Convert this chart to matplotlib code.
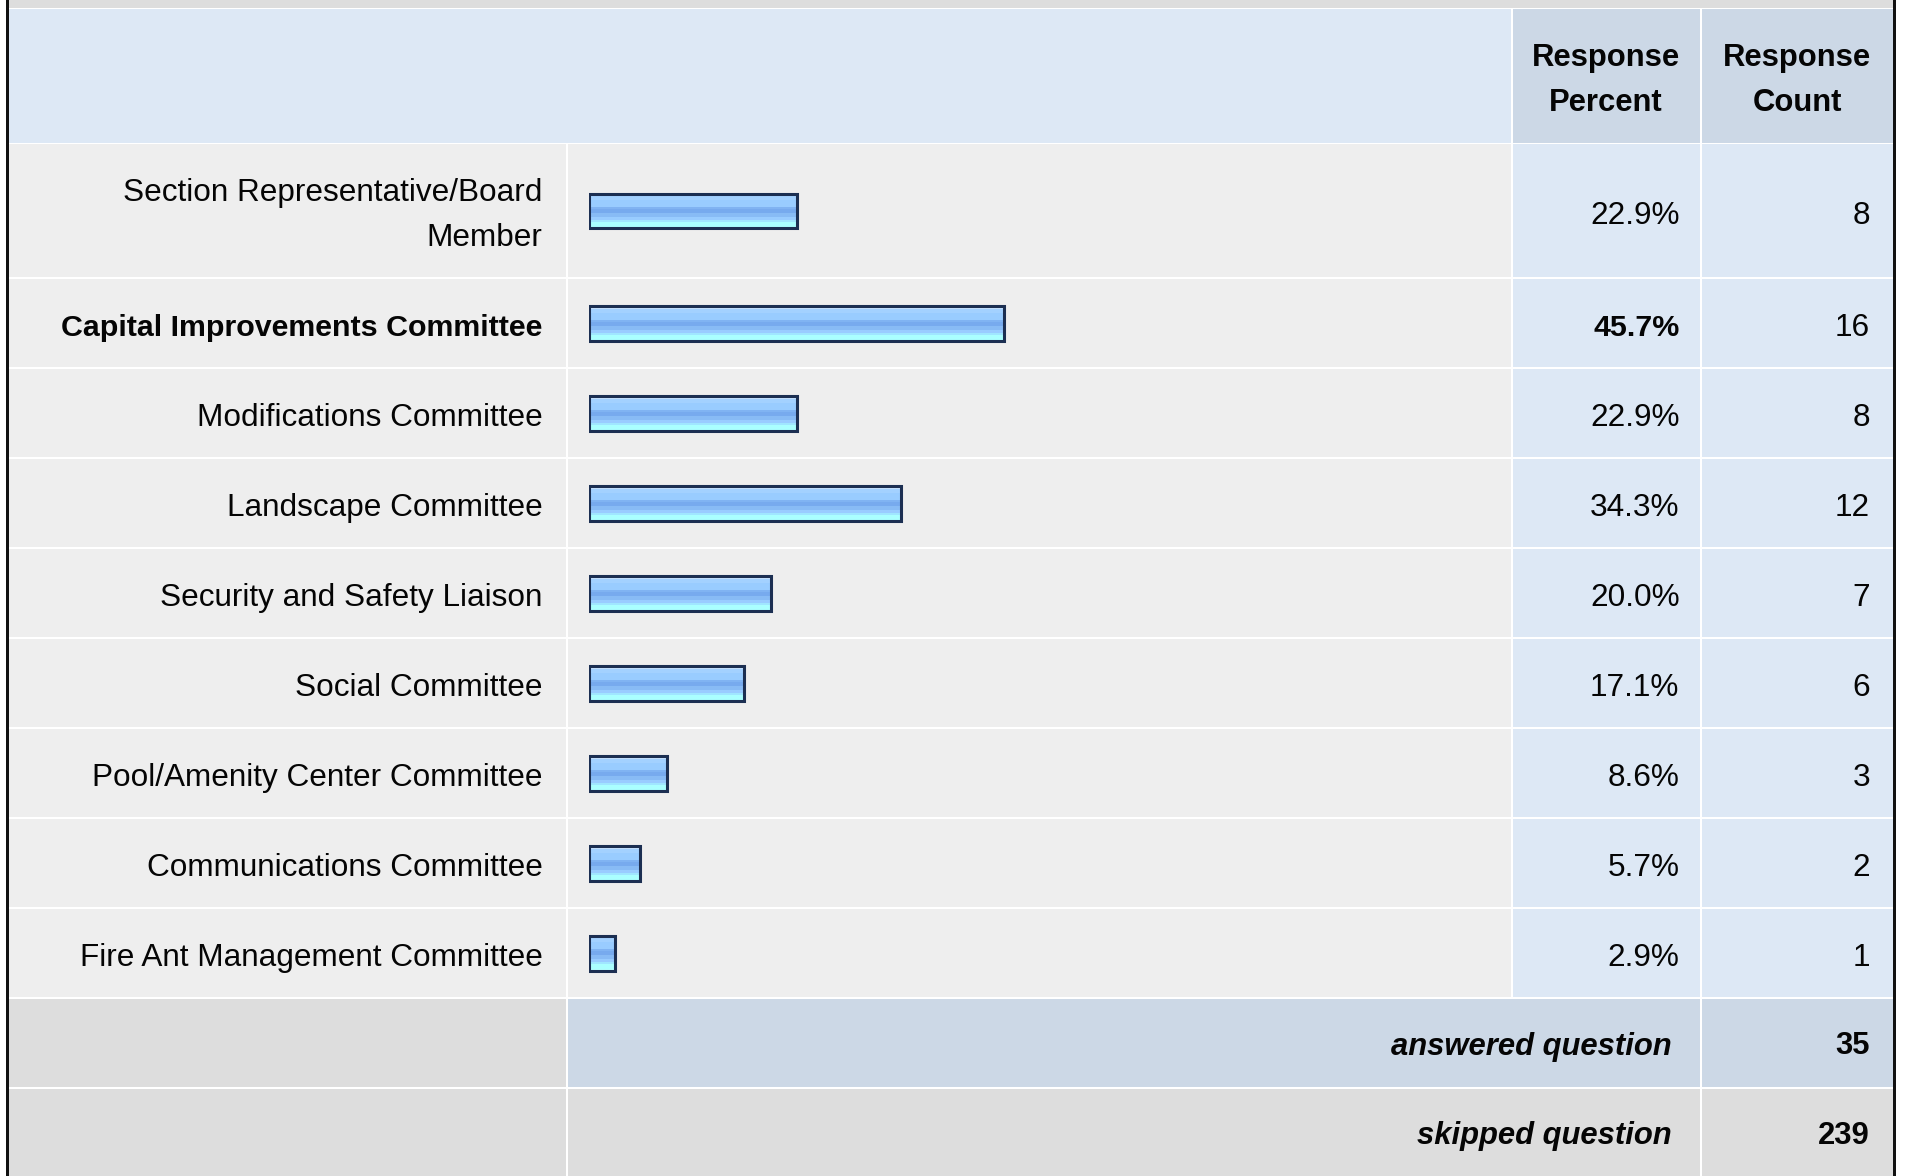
import matplotlib
matplotlib.use("Agg")
import matplotlib.pyplot as plt
from matplotlib.patches import Rectangle
from matplotlib.colors import to_rgb
import numpy as np

# ---------------- data ----------------
categories = [
    "Section Representative/Board\nMember",
    "Capital Improvements Committee",
    "Modifications Committee",
    "Landscape Committee",
    "Security and Safety Liaison",
    "Social Committee",
    "Pool/Amenity Center Committee",
    "Communications Committee",
    "Fire Ant Management Committee",
]
percents = [22.9, 45.7, 22.9, 34.3, 20.0, 17.1, 8.6, 5.7, 2.9]
counts = [8, 16, 8, 12, 7, 6, 3, 2, 1]
bold_rows = [1]
header_labels = ["Response\nPercent", "Response\nCount"]
footer_labels = ["answered question", "skipped question"]
footer_values = [35, 239]

# ---------------- layout (pixels) ----------------
W, H = 1907, 1176
plt.rcParams['font.family'] = ['Liberation Sans', 'DejaVu Sans']
FS = 22.7
FS_B = 21.9
FS_H = 22.3
LS = 1.66
DY = 5

fig = plt.figure(figsize=(W / 100, H / 100), dpi=100)
fig.patch.set_facecolor("white")
ax = fig.add_axes([0, 0, 1, 1])
ax.set_xlim(0, W)
ax.set_ylim(H, 0)
ax.axis("off")

C_LIGHT = "#dde8f5"
C_HEAD = "#ccd8e6"
C_ROW = "#eeeeee"
C_GRAY = "#dddddd"
C_TXT = "#050505"

col_label = (9, 565.5)
col_bar = (567.5, 1510.5)
col_pct = (1512.5, 1699.5)
col_cnt = (1701.5, 1893)

row_tops = [144, 279, 369, 459, 549, 639, 729, 819, 909]
row_bots = [277, 367, 457, 547, 637, 727, 817, 907, 996.5]
head = (9, 142.5)
foot1 = (998.5, 1086.5)
foot2 = (1088.5, 1176)


def cell(x0x1, y0y1, color):
    (x0, x1), (y0, y1) = x0x1, y0y1
    ax.add_patch(Rectangle((x0, y0), x1 - x0, y1 - y0, facecolor=color,
                           edgecolor="none", zorder=1))


# white base between borders
ax.add_patch(Rectangle((8, 0), 1886, H, facecolor="white", edgecolor="none", zorder=0))
# top gray strip
cell((9, 1893), (0, 7.5), C_GRAY)

# header
cell((9, col_bar[1]), head, C_LIGHT)
cell(col_pct, head, C_HEAD)
cell(col_cnt, head, C_HEAD)

# data rows
for t, b in zip(row_tops, row_bots):
    cell(col_label, (t, b), C_ROW)
    cell(col_bar, (t, b), C_ROW)
    cell(col_pct, (t, b), C_LIGHT)
    cell(col_cnt, (t, b), C_LIGHT)

# footers
cell(col_label, foot1, C_GRAY)
cell((col_bar[0], col_pct[1]), foot1, C_HEAD)
cell(col_cnt, foot1, C_HEAD)
cell(col_label, foot2, C_GRAY)
cell((col_bar[0], col_pct[1]), foot2, C_GRAY)
cell(col_cnt, foot2, C_GRAY)

# black side borders
ax.add_patch(Rectangle((5.5, 0), 3, H, facecolor="#111111", edgecolor="none", zorder=3))
ax.add_patch(Rectangle((1893, 0), 3, H, facecolor="#111111", edgecolor="none", zorder=3))

# header texts
hc = (head[0] + head[1]) / 2 + DY
for lab, col in zip(header_labels, [col_pct, col_cnt]):
    ax.text((col[0] + col[1]) / 2, hc, lab, ha="center", va="center",
            multialignment="center", fontsize=FS_H, fontweight="bold",
            linespacing=LS, color=C_TXT, zorder=4)

# row texts
LABEL_X = 542.5
PCT_X = 1679.5
CNT_X = 1870
for i, (lab, p, c) in enumerate(zip(categories, percents, counts)):
    yc = (row_tops[i] + row_bots[i]) / 2 + DY
    b = i in bold_rows
    w = "bold" if b else "normal"
    fs = FS_B if b else FS
    ax.text(LABEL_X, yc, lab, ha="right", va="center", multialignment="right",
            fontsize=fs, fontweight=w, linespacing=LS, color=C_TXT, zorder=4)
    ax.text(PCT_X, yc, f"{p:.1f}%", ha="right", va="center",
            fontsize=fs, fontweight=w, color=C_TXT, zorder=4)
    ax.text(CNT_X, yc, f"{c}", ha="right", va="center",
            fontsize=FS, color=C_TXT, zorder=4)

# footer texts
for (t, b), lab, v in zip([foot1, foot2], footer_labels, footer_values):
    yc = (t + b) / 2 + DY - 1
    ax.text(1672, yc, lab, ha="right", va="center", fontsize=FS_H,
            fontweight="bold", fontstyle="italic", color=C_TXT, zorder=4)
    ax.text(CNT_X, yc, f"{v}", ha="right", va="center", fontsize=FS_H,
            fontweight="bold", color=C_TXT, zorder=4)

# ---------------- bars (percent scale) ----------------
BAR_X0 = 588.6
BAR_FULL = 909.7  # pixels for 100 %
bax = fig.add_axes([BAR_X0 / W, 0, BAR_FULL / W, 1])
bax.set_xlim(0, 100)
bax.set_ylim(H, 0)
bax.axis("off")
bax.patch.set_alpha(0)

grad_cols = (["#c6e2ff"] * 3 + ["#a3d1ff"] * 3 + ["#99ccff"] * 6 + ["#80b3f2"] * 2 +
             ["#77aaee"] * 4 + ["#88bbf5"] * 3 + ["#99ccff"] * 3 + ["#a0e6ff"] * 2 +
             ["#aaffff"] * 4 + ["#b3ffff"] * 1)
grad = np.array([to_rgb(c) for c in grad_cols])[:, None, :]

centers = [(t + b) / 2 + 0.5 for t, b in zip(row_tops, row_bots)]
BAR_H = 34.5
bars = bax.barh(centers, percents, height=BAR_H, facecolor="none",
                edgecolor="#1c2f52", linewidth=2.2, zorder=5)
for rect, p, yc in zip(bars, percents, centers):
    bax.imshow(grad, extent=[0, p, yc + BAR_H / 2, yc - BAR_H / 2],
               aspect="auto", interpolation="nearest", zorder=4)
bax.set_xlim(0, 100)
bax.set_ylim(H, 0)

fig.savefig("out.png", dpi=100, facecolor="white")
